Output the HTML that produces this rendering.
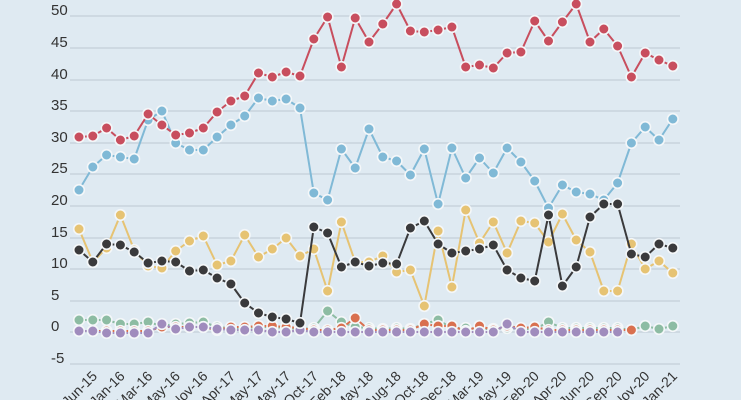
<!DOCTYPE html>
<html><head><meta charset="utf-8"><style>
html,body{margin:0;padding:0;background:#dfeaf2;}
svg{display:block;font-family:"Liberation Sans",sans-serif;}
</style></head><body>
<svg id="c" width="741" height="400" viewBox="0 0 741 400" xmlns="http://www.w3.org/2000/svg">
<rect width="741" height="400" fill="#dfeaf2"/>
</svg>
<script>
const s=document.getElementById('c');const NS='http://www.w3.org/2000/svg';
function el(t,a,txt){const e=document.createElementNS(NS,t);for(const k in a)e.setAttribute(k,a[k]);if(txt!=null)e.textContent=txt;s.appendChild(e);return e;}
const grid=[[50,16],[45,48],[40,80],[35,111],[30,143],[25,174],[20,206],[15,238],[10,269],[5,301],[0,332],[-5,364]];
grid.forEach(([v,y])=>{el('line',{x1:70,x2:680,y1:y,y2:y,stroke:'#c3cfd9','stroke-width':1.3});
el('text',{x:51,y:y-1,'font-size':15,fill:'#333'},String(v));});
const X=i=>79+i*13.81;
const red=[137,136,128,140,136,114,125,135,133,128,112,101,96,73,77,72,76,39,17,67,18,42,24,4,31,32,30,27,67,65,68,53,52,21,41,22,4,42,29,46,77,53,60,66];
const blue=[190,167,155,157,159,120,111,143,150,150,137,125,116,98,101,99,108,193,200,149,168,129,157,161,175,149,204,148,178,158,173,148,162,181,208,185,192,194,200,183,143,127,140,119];
const black=[250,262,244,245,252,263,261,262,271,270,278,284,303,313,317,319,323,227,233,267,262,266,263,264,228,221,244,253,251,249,245,270,278,281,215,286,267,217,204,204,254,257,244,248];
const yellow=[229,262,248,215,250,266,268,251,241,236,265,261,235,257,249,238,256,249,291,222,262,262,256,272,270,306,231,287,210,243,222,253,221,223,242,214,240,252,291,291,244,269,261,273];
const green=[320,320,320,324,324,322,326,324,323,322,327,328,328,327,327,328,329,328,311,322,327,328,329,328,329,324,320,328,328,329,329,328,329,329,322,328,328,328,328,328,330,326,329,326];
const orange=[331,331,331,331,331,331,327,327,327,327,330,327,327,326,326,327,328,330,330,328,318,330,330,330,330,324,326,326,331,326,330,326,328,327,330,330,330,330,330,330,330,null,null,null];
const purple=[331,331,333,333,333,333,324,329,327,327,329,330,330,330,332,332,330,332,332,332,332,332,332,332,332,332,332,332,332,332,332,324,332,332,332,332,332,332,332,332,null,null,null,null];
function series(d,c,r){let p='';d.forEach((y,i)=>{if(y!=null)p+=(p?'L':'M')+X(i).toFixed(1)+','+y;});
el('path',{d:p,fill:'none',stroke:c,'stroke-width':2,'stroke-linejoin':'round'});
d.forEach((y,i)=>{if(y!=null)el('circle',{cx:X(i).toFixed(1),cy:y,r:r||5.3,fill:c,stroke:'#f4f7f9','stroke-width':1.6});});}
series(green,'#8dbca3');series(orange,'#d9704f');series(purple,'#a08cbd');
series(yellow,'#e6c373');series(blue,'#80b9d6');series(black,'#3a3a3c');series(red,'#c84e5e');
const labs=['Jun-15','Jan-16','Mar-16','May-16','Nov-16','Apr-17','May-17','May-17','Oct-17','Feb-18','May-18','Aug-18','Oct-18','Dec-18','Mar-19','May-19','Feb-20','Apr-20','Jun-20','Sep-20','Nov-20','Jan-21'];
labs.forEach((t,k)=>{const x=X(k*2)+19,y=377;el('text',{x:x,y:y,'font-size':14,fill:'#333','text-anchor':'end',transform:`rotate(-45 ${x} ${y})`},t);});
</script>
</body></html>
